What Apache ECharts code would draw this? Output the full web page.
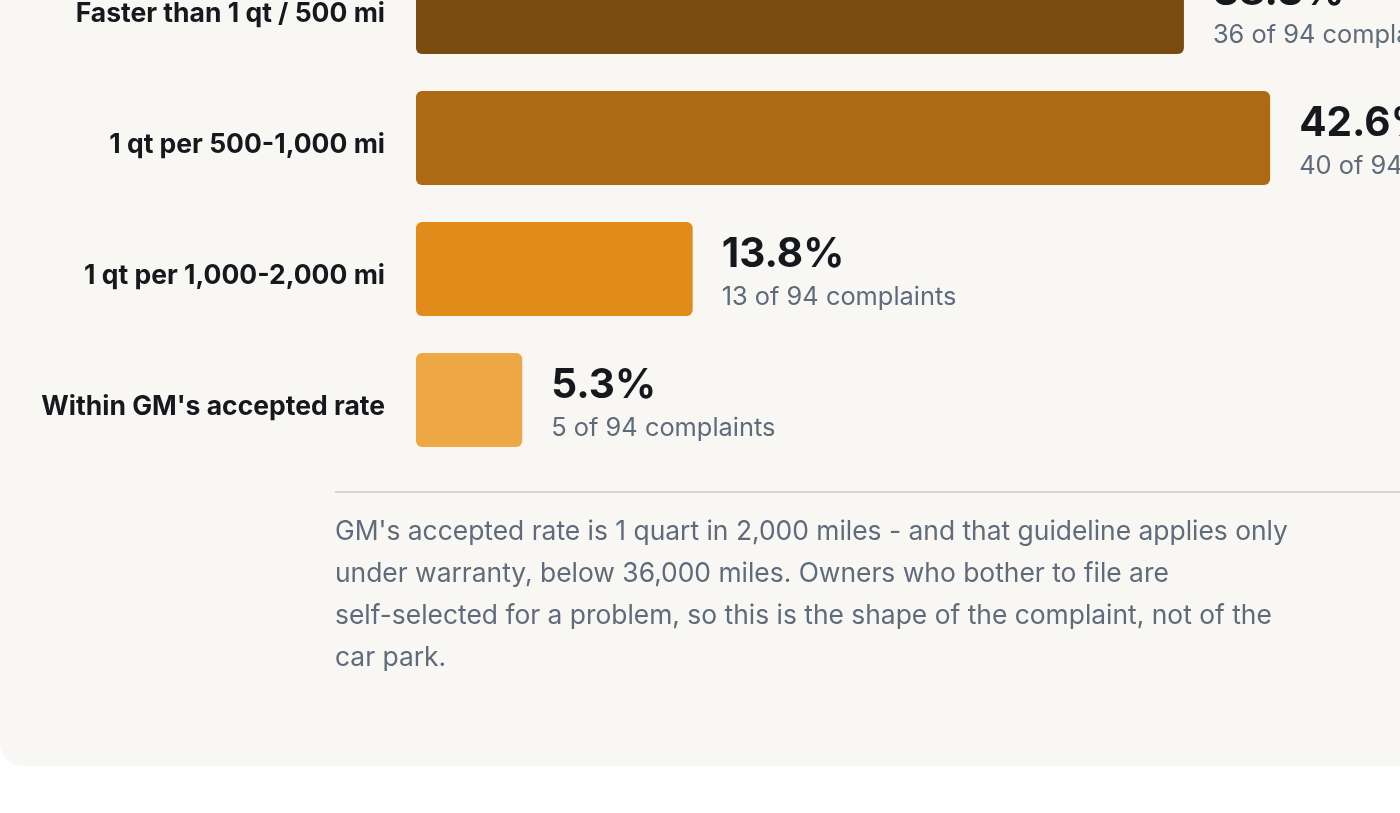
<!DOCTYPE html>
<html>
<head>
<meta charset="utf-8">
<script src="https://cdn.jsdelivr.net/npm/echarts@6/dist/echarts.min.js"></script>
<style>
  html, body { margin: 0; padding: 0; background: #ffffff; overflow: hidden; width: 1400px; height: 813px; }
  body { position: relative; font-family: Inter, "Noto Sans", sans-serif; }
  .card { position: absolute; left: 0; top: -100px; width: 1600px; height: 865px; background: #f8f7f4; border-radius: 24px; box-shadow: 0 1px 2px rgba(0,0,0,0.04); }
  #chart { position: absolute; left: 0; top: -80px; width: 1640px; height: 600px; }
  .rule { position: absolute; left: 335px; top: 491px; width: 1200px; height: 2px; background: #d8d5cf; }
  .note { position: absolute; left: 335px; top: 509px; width: 965px; font-size: 26.4px; line-height: 42px; color: #5f6b7a; }
  .nw { white-space: nowrap; }
</style>
</head>
<body>
<div class="card"></div>
<div id="chart"></div>
<div class="rule"></div>
<div class="note">GM's accepted rate is 1 quart in 2,000 miles - and that guideline applies only under warranty, below 36,000 miles. Owners who bother to file are <span class="nw">self-selected</span> for a problem, so this is the shape of the complaint, not of the car park.</div>
<script>
// complaint buckets, oil burn rate
const categories = ['Faster than 1 qt / 500 mi', '1 qt per 500-1,000 mi', '1 qt per 1,000-2,000 mi', "Within GM's accepted rate"];
const counts = [36, 40, 13, 5];
const total = 94;
const barColors = ['#7a4b10', '#ad6a13', '#e08b1a', '#eda745'];

const percents = counts.map(c => Math.round(c / total * 1000) / 10);

const chart = echarts.init(document.getElementById('chart'));

chart.setOption({
  animation: false,
  grid: { left: 416, right: 21, top: 21.5, bottom: 54.5 },
  xAxis: {
    type: 'value',
    min: 0,
    max: 60,
    show: false
  },
  yAxis: {
    type: 'category',
    inverse: true,
    data: categories,
    axisLine: { show: false },
    axisTick: { show: false },
    axisLabel: {
      margin: 31,
      formatter: v => '{l|' + v + '}',
      rich: {
        l: {
          fontSize: 26.5,
          fontWeight: 700,
          fontFamily: 'Inter',
          color: '#15181d',
          padding: [14, 0, 0, 0]
        }
      }
    }
  },
  series: [{
    type: 'bar',
    barWidth: 94,
    data: percents.map((p, i) => ({
      value: p,
      itemStyle: { color: barColors[i] }
    })),
    itemStyle: { borderRadius: 6 },
    label: {
      show: true,
      position: 'right',
      distance: 29,
      padding: [9, 0, 0, 0],
      fontFamily: 'Inter',
      formatter: p => '{a|' + p.value.toFixed(1) + '%}\n{b|' + counts[p.dataIndex] + ' of ' + total + ' complaints}',
      rich: {
        a: { fontSize: 40.5, fontWeight: 700, color: '#15181d', lineHeight: 48, fontFamily: 'Inter' },
        b: { fontSize: 25.4, color: '#5f6b7a', lineHeight: 38, fontFamily: 'Inter' }
      }
    }
  }]
});
</script>
</body>
</html>
